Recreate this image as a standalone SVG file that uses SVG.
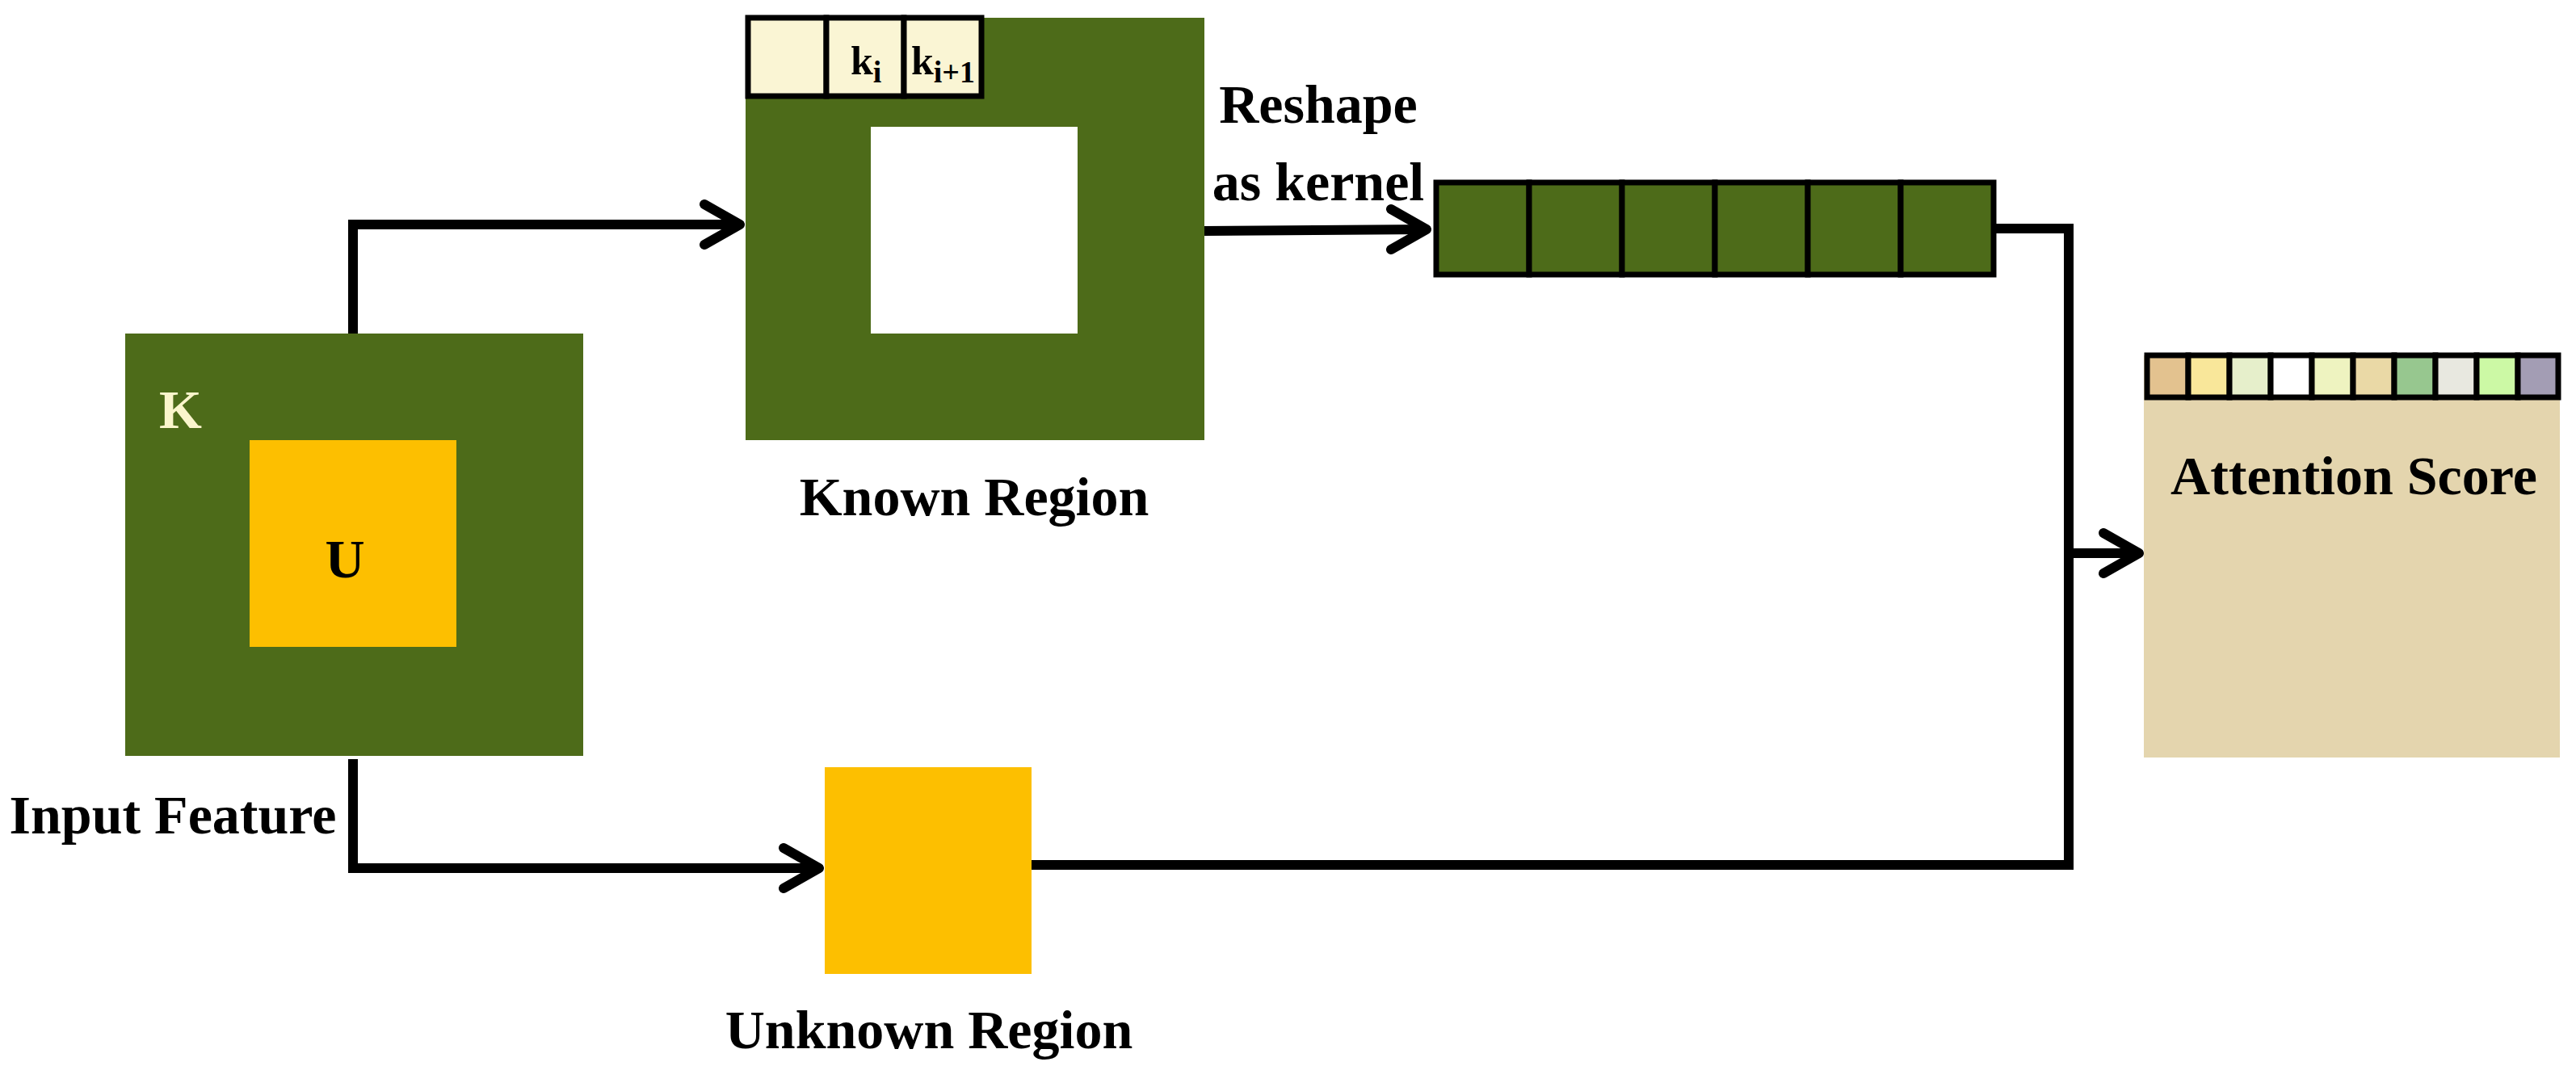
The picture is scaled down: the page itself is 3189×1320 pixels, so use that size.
<svg xmlns="http://www.w3.org/2000/svg" width="3189" height="1320" viewBox="0 0 3189 1320">
<defs>
<style>
.t{font-family:"Liberation Serif","Times New Roman",serif;font-weight:bold;font-size:68px;fill:#000}
.g{fill:#4D6B19}
.y{fill:#FDBF00}
.c{stroke:#000;stroke-width:7}
.ln{fill:none;stroke:#000;stroke-width:12}
</style>
<marker id="ah" viewBox="0 0 10 10" refX="9" refY="5" markerWidth="5" markerHeight="5" orient="auto" markerUnits="userSpaceOnUse">
</marker>
</defs>
<rect width="3189" height="1320" fill="#fff"/>
<g id="input">
<rect class="g" x="155" y="413" width="567" height="523"/>
<rect class="y" x="309" y="545" width="256" height="256"/>
<text class="t" x="197" y="530" fill="#FAF5CC" style="fill:#FAF5CC">K</text>
<text class="t" x="427" y="715" text-anchor="middle">U</text>
<text class="t" x="214" y="1032" text-anchor="middle">Input Feature</text>
</g>
<g id="known">
<rect class="g" x="923" y="22" width="568" height="523"/>
<rect x="1078" y="157" width="256" height="256" fill="#fff"/>
<rect class="c" x="926" y="22" width="97" height="97" fill="#FAF5D4"/>
<rect class="c" x="1023" y="22" width="96" height="97" fill="#FAF5D4"/>
<rect class="c" x="1119" y="22" width="96" height="97" fill="#FAF5D4"/>
<text class="t" x="1053" y="92" style="font-size:50px">k<tspan dy="10" style="font-size:38px">i</tspan></text>
<text class="t" x="1128" y="92" style="font-size:50px">k<tspan dy="10" style="font-size:38px">i+1</tspan></text>
<text class="t" x="1206" y="638" text-anchor="middle">Known Region</text>
</g>
<g id="unknown">
<rect class="y" x="1021" y="950" width="256" height="256"/>
<text class="t" x="1150" y="1298" text-anchor="middle">Unknown Region</text>
</g>
<g id="kernel">
<text class="t" x="1632" y="152" text-anchor="middle">Reshape</text>
<text class="t" x="1632" y="248" text-anchor="middle">as kernel</text>
<rect class="c g" x="1778" y="226" width="115" height="114"/>
<rect class="c g" x="1893" y="226" width="115" height="114"/>
<rect class="c g" x="2008" y="226" width="115" height="114"/>
<rect class="c g" x="2123" y="226" width="115" height="114"/>
<rect class="c g" x="2238" y="226" width="115" height="114"/>
<rect class="c g" x="2353" y="226" width="115" height="114"/>
</g>
<g id="attention">
<rect x="2654" y="440" width="515" height="498" fill="#E4D5AE"/>
<g class="c">
<rect x="2658" y="440" width="51" height="52" fill="#E3C28F"/>
<rect x="2709" y="440" width="51" height="52" fill="#F9E79A"/>
<rect x="2760" y="440" width="51" height="52" fill="#E6EFCB"/>
<rect x="2811" y="440" width="51" height="52" fill="#FFFFFF"/>
<rect x="2862" y="440" width="51" height="52" fill="#EEF3C0"/>
<rect x="2913" y="440" width="51" height="52" fill="#EAD9A6"/>
<rect x="2964" y="440" width="51" height="52" fill="#97C78F"/>
<rect x="3015" y="440" width="51" height="52" fill="#E8E8E0"/>
<rect x="3066" y="440" width="51" height="52" fill="#CCF9A5"/>
<rect x="3117" y="440" width="50" height="52" fill="#A39DB4"/>
</g>
<text class="t" x="2914" y="612" text-anchor="middle">Attention Score</text>
</g>
<g id="connectors">
<polyline class="ln" points="437,413 437,278 916,278"/>
<polyline class="ln" stroke-linecap="round" stroke-linejoin="round" points="872,253 916,278 872,303"/>
<polyline class="ln" points="437,940 437,1075 1014,1075"/>
<polyline class="ln" stroke-linecap="round" stroke-linejoin="round" points="970,1050 1014,1075 970,1100"/>
<line class="ln" x1="1491" y1="286" x2="1766" y2="284"/>
<polyline class="ln" stroke-linecap="round" stroke-linejoin="round" points="1722,259 1766,284 1722,309"/>
<polyline class="ln" points="2468,283 2561,283 2561,1071 1277,1071"/>
<line class="ln" x1="2561" y1="685" x2="2646" y2="685"/>
<polyline class="ln" stroke-linecap="round" stroke-linejoin="round" points="2604,660 2648,685 2604,710"/>
</g>
</svg>
